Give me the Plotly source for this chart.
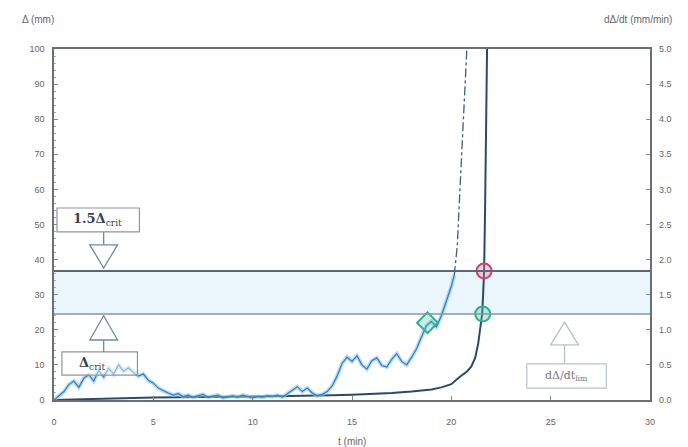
import plotly.graph_objects as go

# --- deflection vs time (left axis, mm) ---
t_defl = [0, 1, 2, 3, 4, 5, 6, 7, 8, 9, 10, 11, 12, 13, 14, 15, 16, 17, 18, 19,
          19.5, 20, 20.4, 20.8, 21.0, 21.2, 21.35, 21.45, 21.55, 21.6, 21.65,
          21.7, 21.75, 21.8, 21.82]
defl = [0, 0.2, 0.35, 0.5, 0.6, 0.7, 0.8, 0.85, 0.9, 0.95, 1.0, 1.05, 1.1, 1.2,
        1.35, 1.5, 1.7, 2.0, 2.4, 3.0, 3.6, 4.5, 6.5, 8.2, 9.5, 12, 16, 21,
        24.5, 30, 36.75, 55, 80, 100, 110]

# --- deflection rate vs time (right axis, mm/min) ---
t_rate = [0, 0.25, 0.5, 0.75, 1.0, 1.25, 1.5, 1.75, 2.0, 2.25, 2.5, 2.75, 3.0,
          3.25, 3.5, 3.75, 4.0, 4.25, 4.5, 4.75, 5.0, 5.25, 5.5, 5.75, 6.0,
          6.25, 6.5, 6.75, 7.0, 7.25, 7.5, 7.75, 8.0, 8.25, 8.5, 8.75, 9.0,
          9.25, 9.5, 9.75, 10.0, 10.25, 10.5, 10.75, 11.0, 11.25, 11.5, 11.75,
          12.0, 12.25, 12.5, 12.75, 13.0, 13.25, 13.5, 13.75, 14.0, 14.25,
          14.5, 14.75, 15.0, 15.25, 15.5, 15.75, 16.0, 16.25, 16.5, 16.75,
          17.0, 17.25, 17.5, 17.75, 18.0, 18.25, 18.5, 18.75, 19.0, 19.25,
          19.5, 19.75, 20.0, 20.15]
rate = [0.0, 0.06, 0.12, 0.22, 0.27, 0.18, 0.31, 0.36, 0.27, 0.42, 0.33, 0.45,
        0.37, 0.5, 0.41, 0.46, 0.39, 0.34, 0.37, 0.28, 0.24, 0.17, 0.13, 0.1,
        0.07, 0.09, 0.05, 0.07, 0.04, 0.06, 0.08, 0.04, 0.05, 0.07, 0.03,
        0.05, 0.06, 0.04, 0.07, 0.05, 0.03, 0.05, 0.04, 0.06, 0.05, 0.07,
        0.04, 0.09, 0.14, 0.19, 0.12, 0.17, 0.1, 0.06, 0.08, 0.12, 0.2, 0.34,
        0.52, 0.61, 0.55, 0.63, 0.5, 0.44, 0.56, 0.6, 0.49, 0.47, 0.58, 0.66,
        0.55, 0.5, 0.61, 0.73, 0.9, 1.06, 1.12, 1.04, 1.2, 1.4, 1.62, 1.78]
t_rate_up = [20.15, 20.3, 20.4, 20.5, 20.6, 20.7, 20.78]
rate_up = [1.78, 2.2, 2.8, 3.4, 4.0, 4.6, 5.0]

delta_crit = 24.5
delta_15 = 1.5 * delta_crit

LINE = "#2b4a6b"
RATE = "#2f7fc1"
RATE_LIGHT = "#8cc4ea"

fig = go.Figure()

# band between the two limit levels
fig.add_shape(type="rect", xref="paper", yref="y", x0=0, x1=1,
              y0=delta_crit, y1=delta_15, fillcolor="#eaf5fc",
              line_width=0, layer="below")

fig.add_trace(go.Scatter(x=t_rate, y=rate, yaxis="y2", mode="lines",
                         line=dict(color=RATE_LIGHT, width=4),
                         opacity=0.6, hoverinfo="skip", showlegend=False))
fig.add_trace(go.Scatter(x=t_rate, y=rate, yaxis="y2", mode="lines",
                         line=dict(color=RATE, width=1.2), showlegend=False))
fig.add_trace(go.Scatter(x=t_rate_up, y=rate_up, yaxis="y2", mode="lines",
                         line=dict(color="#3d5f7a", width=1.3, dash="dashdot"),
                         showlegend=False))

fig.add_trace(go.Scatter(x=t_defl, y=defl, mode="lines",
                         line=dict(color=LINE, width=2), showlegend=False))

# horizontal limit lines
fig.add_hline(y=delta_15, line=dict(color="#56687a", width=2))
fig.add_hline(y=delta_crit, line=dict(color="#8796a4", width=1.5))

# markers at the crossings
fig.add_trace(go.Scatter(x=[21.65], y=[delta_15], mode="markers",
                         marker=dict(symbol="circle", size=15, color="rgba(230,120,150,0.35)",
                                     line=dict(color="#c2476c", width=2)),
                         showlegend=False))
fig.add_trace(go.Scatter(x=[21.58], y=[delta_crit], mode="markers",
                         marker=dict(symbol="circle", size=15, color="rgba(80,200,170,0.35)",
                                     line=dict(color="#2fae8e", width=2)),
                         showlegend=False))
fig.add_trace(go.Scatter(x=[18.8], y=[1.1], yaxis="y2", mode="markers",
                         marker=dict(symbol="diamond", size=16, color="rgba(80,200,170,0.3)",
                                     line=dict(color="#2fae8e", width=2)),
                         showlegend=False))


def tri(x, ytip, ybase, half, color):
    """Open triangular pointer with its tip at (x, ytip)."""
    return dict(type="path", xref="x", yref="y",
                path=f"M {x-half},{ybase} L {x+half},{ybase} L {x},{ytip} Z",
                line=dict(color=color, width=1.3), fillcolor="rgba(255,255,255,0.6)")


def stem(x, y0, y1, color):
    return dict(type="line", xref="x", yref="y", x0=x, x1=x, y0=y0, y1=y1,
                line=dict(color=color, width=1.3))


def box(x0, x1, y0, y1, color, fill="white"):
    return dict(type="rect", xref="x", yref="y", x0=x0, x1=x1, y0=y0, y1=y1,
                line=dict(color=color, width=1.2), fillcolor=fill)


ARROW = "#6f8aa0"
FAINT = "#b8c2cb"

# upper label: 1.5 Δcrit, pointing down
fig.add_shape(box(0.15, 4.3, 47.9, 54.7, "#8a96a2"))
fig.add_shape(stem(2.5, 47.9, 44.2, ARROW))
fig.add_shape(tri(2.5, 37.6, 44.2, 0.7, ARROW))
# lower label: Δcrit, pointing up
fig.add_shape(box(0.4, 4.2, 7.1, 13.7, "#8a96a2", "rgba(255,255,255,0.45)"))
fig.add_shape(stem(2.5, 13.7, 17.1, ARROW))
fig.add_shape(tri(2.5, 24.0, 17.1, 0.7, ARROW))
# rate limit label, pointing up
fig.add_shape(box(23.8, 27.8, 3.4, 10.3, FAINT))
fig.add_shape(stem(25.7, 10.3, 15.7, FAINT))
fig.add_shape(tri(25.7, 22.2, 15.7, 0.7, FAINT))

SERIF = "DejaVu Serif"
fig.add_annotation(x=2.2, y=51.3, xref="x", yref="y",
                   text="<b>1.5Δ</b><sub>crit</sub>", showarrow=False,
                   font=dict(family=SERIF, size=13, color="#3b4450"))
fig.add_annotation(x=1.9, y=10.4, xref="x", yref="y",
                   text="<b>Δ</b><sub>crit</sub>", showarrow=False,
                   font=dict(family=SERIF, size=13, color="#3b4450"))
fig.add_annotation(x=25.8, y=6.85, xref="x", yref="y",
                   text="dΔ/dt<sub>lim</sub>", showarrow=False,
                   font=dict(family=SERIF, size=11, color="#707a84"))

# axis titles
TITLE_FONT = dict(family="Liberation Sans", size=10, color="#666")
fig.add_annotation(x=0, y=1, xref="paper", yref="paper", xanchor="right", yanchor="bottom",
                   yshift=22, xshift=2, text="Δ (mm)", showarrow=False, font=TITLE_FONT)
fig.add_annotation(x=1, y=1, xref="paper", yref="paper", xanchor="left", yanchor="bottom",
                   yshift=22, xshift=-48, text="dΔ/dt (mm/min)", showarrow=False,
                   font=TITLE_FONT)
fig.add_annotation(x=0.5, y=0, xref="paper", yref="paper", xanchor="center", yanchor="top",
                   yshift=-34, text="t (min)", showarrow=False, font=TITLE_FONT)

tickfont = dict(family="Liberation Sans", size=9, color="#666")
fig.update_layout(
    width=688, height=447,
    margin=dict(l=54, r=38, t=49, b=47),
    paper_bgcolor="white", plot_bgcolor="white",
    xaxis=dict(range=[0, 30], dtick=5, showgrid=False, zeroline=False,
               showline=True, linecolor="#6a6f75", linewidth=1.5, mirror=True,
               ticks="inside", ticklen=4, tickcolor="#888", tickfont=tickfont,
               ticklabelstandoff=12, automargin=False),
    yaxis=dict(range=[0, 100], dtick=10, showgrid=False, zeroline=False,
               showline=True, linecolor="#6a6f75", linewidth=1.5, mirror=True,
               ticks="inside", ticklen=4, tickcolor="#888", tickfont=tickfont,
               ticklabelstandoff=6, automargin=False,
               minor=dict(ticks="inside", ticklen=2, dtick=2, tickcolor="#aaa")),
    yaxis2=dict(range=[0, 5], dtick=0.5, overlaying="y", side="right",
                showgrid=False, zeroline=False, tickformat=".1f",
                ticks="inside", ticklen=4, tickcolor="#888", tickfont=tickfont,
                ticklabelstandoff=8, automargin=False),
)

fig.write_html("out.html")
